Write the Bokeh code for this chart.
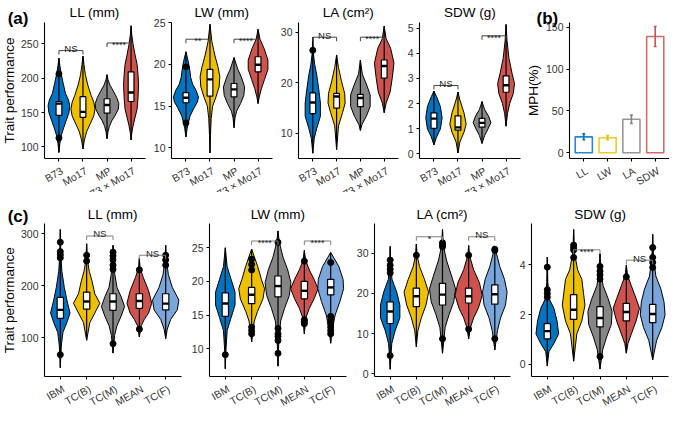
import math
from bokeh.plotting import figure
from bokeh.models import Range1d, FixedTicker, Label
from bokeh.layouts import row, column
from bokeh.embed import file_html
from bokeh.resources import INLINE

FONT = "Liberation Sans"
COLORS = ["#0073C2", "#EFC000", "#868686", "#CD534C", "#7AA6DC"]

TOP_CATS = ["B73", "Mo17", "MP", "B73 × Mo17"]
BOT_CATS = ["IBM", "TC(B)", "TC(M)", "MEAN", "TC(F)"]
MPH_CATS = ["LL", "LW", "LA", "SDW"]

# ---------------- (a) parents vs hybrid ----------------
A_LL_V = [[92, 105, 117, 128, 138, 150, 160, 168, 178, 192, 205, 218, 229],
          [97, 110, 122, 135, 145, 155, 165, 175, 190, 205, 220, 232],
          [112, 122, 130, 138, 146, 155, 163, 172, 180, 190, 198, 205],
          [110, 120, 130, 142, 155, 172, 190, 205, 220, 235, 250, 263, 276]]
A_LL_W = [[0, 0.04, 0.10, 0.20, 0.30, 0.42, 0.45, 0.40, 0.27, 0.18, 0.10, 0.04, 0],
          [0, 0.06, 0.15, 0.32, 0.45, 0.50, 0.45, 0.34, 0.20, 0.10, 0.04, 0],
          [0, 0.04, 0.10, 0.20, 0.34, 0.47, 0.49, 0.40, 0.28, 0.12, 0.04, 0],
          [0, 0.03, 0.08, 0.16, 0.25, 0.29, 0.31, 0.29, 0.25, 0.16, 0.08, 0.03, 0]]
A_LL_BOX = [(146, 163, 166), (143, 151, 173), (149, 161, 170), (166, 179, 209)]
A_LL_OUT = [[113, 206], [], [], []]
A_LL_SIG = [(1, 2, 240, "NS"), (3, 4, 251, "****")]

A_LW_V = [[11.3, 12.3, 13.0, 13.8, 14.8, 15.5, 16.1, 16.9, 17.6, 18.4, 19.3, 20.3, 21.5],
          [9.4, 11.5, 13.5, 15.0, 16.1, 17.3, 18.5, 19.6, 21.1, 22.7, 24.8],
          [12.4, 13.6, 14.4, 15.3, 16.3, 17.3, 18.5, 19.4, 20.8],
          [15.3, 16.1, 17.1, 18.2, 19.4, 20.5, 21.9, 23.0, 24.2]]
A_LW_W = [[0, 0.05, 0.10, 0.17, 0.34, 0.48, 0.52, 0.42, 0.28, 0.20, 0.16, 0.10, 0],
          [0, 0.02, 0.05, 0.11, 0.25, 0.38, 0.41, 0.34, 0.20, 0.08, 0],
          [0, 0.04, 0.11, 0.27, 0.41, 0.44, 0.30, 0.16, 0],
          [0, 0.05, 0.14, 0.27, 0.41, 0.41, 0.25, 0.08, 0]]
A_LW_BOX = [(15.4, 16.0, 16.6), (16.2, 18.2, 19.4), (16.1, 17.0, 17.7), (19.1, 19.95, 20.9)]
A_LW_OUT = [[13.0, 19.7], [], [], []]
A_LW_SIG = [(1, 2, 23.0, "**"), (3, 4, 23.0, "****")]

A_LA_V = [[6.1, 9.0, 10.9, 13.4, 16.0, 19.1, 21.7, 23.6, 26.0, 29.0],
          [6.8, 11.5, 14.1, 16.0, 17.9, 20.4, 23.0, 25.5],
          [10.6, 11.8, 13.4, 15.3, 17.6, 19.5, 21.7, 24.5],
          [14.1, 16.0, 18.2, 21.0, 23.9, 26.8, 28.7, 31.2]]
A_LA_W = [[0, 0.06, 0.16, 0.32, 0.32, 0.24, 0.16, 0.08, 0.02, 0],
          [0, 0.08, 0.25, 0.36, 0.34, 0.20, 0.08, 0],
          [0, 0.07, 0.25, 0.41, 0.41, 0.27, 0.08, 0],
          [0, 0.08, 0.25, 0.34, 0.41, 0.27, 0.08, 0]]
A_LA_BOX = [(13.9, 16.1, 18.0), (15.0, 17.3, 17.9), (15.3, 17.0, 17.7), (20.9, 23.3, 24.5)]
A_LA_OUT = [[26.4], [], [], []]
A_LA_SIG = [(1, 2, 29.0, "NS"), (3, 4, 29.0, "****")]

A_SDW_V = [[0.35, 0.67, 0.99, 1.43, 1.88, 2.27, 2.5],
           [0.03, 0.47, 0.86, 1.18, 1.63, 2.14, 2.46],
           [0.41, 0.73, 0.99, 1.24, 1.5, 1.76, 2.08],
           [1.1, 1.6, 2.0, 2.4, 2.8, 3.2, 3.8, 4.5, 5.15]]
A_SDW_W = [[0, 0.11, 0.27, 0.34, 0.27, 0.11, 0],
           [0, 0.08, 0.25, 0.34, 0.25, 0.08, 0],
           [0, 0.11, 0.25, 0.37, 0.27, 0.11, 0],
           [0, 0.06, 0.15, 0.30, 0.35, 0.25, 0.12, 0.04, 0]]
A_SDW_BOX = [(1.01, 1.4, 1.63), (0.94, 1.05, 1.51), (1.06, 1.23, 1.41), (2.45, 2.73, 3.1)]
A_SDW_OUT = [[], [], [], []]
A_SDW_SIG = [(1, 2, 2.72, "NS"), (3, 4, 4.7, "****")]

# ---------------- (b) mid-parent heterosis ----------------
MPH_VALS = [19, 18, 40, 139]
MPH_ERR = [3.5, 2.5, 5, 12]

# ---------------- (c) population / testcrosses ----------------
C_LL_V = [[43, 86.5, 111, 129.6, 148, 172.8, 197.5, 228, 260, 308.6],
          [95.7, 129.6, 148, 166.7, 185, 210, 228, 250, 281],
          [71, 105, 123.5, 142, 160.5, 179, 197.5, 222, 250, 278],
          [102, 123.5, 135.8, 148, 166.7, 191, 216, 235, 253],
          [98.8, 117, 135.8, 154, 172.8, 197.5, 222, 250, 278]]
C_LL_W = [[0, 0.04, 0.10, 0.25, 0.37, 0.25, 0.15, 0.06, 0.02, 0],
          [0, 0.12, 0.31, 0.50, 0.31, 0.20, 0.10, 0.03, 0],
          [0, 0.06, 0.15, 0.31, 0.44, 0.31, 0.15, 0.07, 0.02, 0],
          [0, 0.07, 0.19, 0.35, 0.47, 0.35, 0.15, 0.03, 0],
          [0, 0.06, 0.19, 0.44, 0.50, 0.25, 0.10, 0.03, 0]]
C_LL_BOX = [(137.6, 154, 178), (155.6, 170, 188), (153, 170, 185), (157, 171, 185), (154, 166, 185)]
C_LL_OUT = [[68, 254, 260, 266, 284], [248, 259], [89, 232, 240, 250, 258, 265], [117, 231], [240, 250, 259]]
C_LL_SIG = [(2, 3, 296, "NS"), (4, 5, 259, "NS")]

C_LW_V = [[7.0, 9.5, 12.7, 14.6, 16.5, 18.4, 20.3, 22.2, 25.0],
          [11.0, 14.1, 15.5, 17.4, 18.9, 20.3, 22.2, 24.8],
          [7.4, 11.0, 14.1, 16.0, 17.9, 19.8, 21.7, 23.6, 25.8, 27.5],
          [12.2, 14.6, 16.0, 17.4, 18.9, 20.3, 21.7, 23.1, 24.6],
          [10.8, 13.1, 15.0, 17.0, 18.9, 20.3, 22.2, 24.3]]
C_LW_W = [[0, 0.02, 0.07, 0.22, 0.37, 0.37, 0.22, 0.07, 0],
          [0, 0.10, 0.22, 0.43, 0.49, 0.37, 0.23, 0],
          [0, 0.03, 0.10, 0.25, 0.43, 0.49, 0.37, 0.19, 0.05, 0],
          [0, 0.06, 0.19, 0.37, 0.52, 0.37, 0.19, 0.05, 0],
          [0, 0.07, 0.17, 0.35, 0.49, 0.47, 0.31, 0]]
C_LW_BOX = [(14.8, 16.7, 18.3), (16.7, 18.0, 19.1), (17.7, 19.3, 20.8), (17.4, 18.6, 20.0), (18.0, 19.1, 20.3)]
C_LW_OUT = [[9.1], [12.2, 12.7, 13.2, 21.7, 22.5, 23.3], [9.3, 11.2, 11.8, 12.2, 13.0, 25.8],
            [13.7, 14.0, 14.3, 23.0], [12.2, 12.7, 13.2, 13.7, 14.2, 14.8, 22.8]]
C_LW_SIG = [(2, 3, 26.0, "****"), (4, 5, 26.0, "****")]

C_LA_V = [[1.1, 7.5, 10.7, 13.9, 17.1, 20.3, 23.5, 27.0, 31.7],
          [6.7, 10.7, 13.9, 17.1, 20.3, 23.5, 26.7, 29.5, 32.3],
          [5.1, 11.5, 14.7, 17.9, 21.1, 24.3, 28.3, 32.0, 35.9],
          [8.7, 11.5, 13.9, 16.3, 19.5, 22.7, 25.9, 29.5, 31.9],
          [5.9, 10.7, 13.9, 17.1, 20.3, 23.5, 26.7, 31.5]]
C_LA_W = [[0, 0.06, 0.19, 0.37, 0.37, 0.25, 0.07, 0.02, 0],
          [0, 0.06, 0.19, 0.37, 0.47, 0.31, 0.12, 0.03, 0],
          [0, 0.10, 0.25, 0.43, 0.50, 0.35, 0.15, 0.03, 0],
          [0, 0.07, 0.19, 0.37, 0.52, 0.41, 0.19, 0.03, 0],
          [0, 0.10, 0.22, 0.41, 0.47, 0.37, 0.19, 0]]
C_LA_BOX = [(12.5, 15.5, 17.9), (16.7, 19.3, 21.3), (17.1, 19.7, 22.5), (17.6, 19.3, 21.3), (17.3, 19.8, 22.1)]
C_LA_OUT = [[4.5, 25.1, 26.0, 27.0, 28.3], [29.5], [8.7, 31.6, 32.1, 32.6], [11.1, 29.5], [8.7, 30.7, 31.0]]
C_LA_SIG = [(2, 3, 34.1, "*"), (4, 5, 34.1, "NS")]

C_SDW_V = [[-0.08, 0.5, 0.83, 1.22, 1.74, 2.25, 2.64, 3.3, 4.32],
           [0.12, 1.22, 1.74, 2.38, 2.9, 3.42, 3.8, 4.5, 5.43],
           [-0.2, 0.57, 1.09, 1.6, 2.12, 2.64, 3.16, 3.7, 4.45],
           [0.44, 0.83, 1.22, 1.74, 2.25, 2.64, 3.16, 3.55, 4.0],
           [0.18, 0.96, 1.48, 1.99, 2.51, 3.03, 3.55, 4.3, 5.23]]
C_SDW_W = [[0, 0.06, 0.25, 0.43, 0.37, 0.25, 0.07, 0.02, 0],
           [0, 0.12, 0.31, 0.43, 0.37, 0.31, 0.15, 0.03, 0],
           [0, 0.10, 0.25, 0.43, 0.46, 0.31, 0.12, 0.03, 0],
           [0, 0.06, 0.19, 0.37, 0.50, 0.37, 0.19, 0.05, 0],
           [0, 0.15, 0.35, 0.47, 0.43, 0.31, 0.12, 0.03, 0]]
C_SDW_BOX = [(1.02, 1.33, 1.63), (1.8, 2.19, 2.8), (1.5, 1.86, 2.32), (1.74, 2.1, 2.45), (1.67, 2.02, 2.41)]
C_SDW_OUT = [[2.7, 2.85, 3.0, 3.91], [4.3, 4.6, 4.7, 4.8], [0.31, 3.43, 3.6, 3.75, 3.94], [3.52], [3.9, 4.1, 4.3, 4.7]]
C_SDW_SIG = [(2, 3, 4.61, "****"), (4, 5, 4.19, "NS")]

# ---------------- layout (reference px -> page px) ----------------
SX = 669 / 685
SY = 410 / 426


class Panel:
    """A figure whose frame fills its canvas; axes are placed at fixed locations."""

    def __init__(self, fig_lr, frame_lr, fig_tb, frame_tb, ncat, yr, yticks, cats):
        L, R, A, B = (round(v * SX) for v in (*fig_lr, *frame_lr))
        T, Bo, At, Ab = (round(v * SY) for v in (*fig_tb, *frame_tb))
        self.L, self.T = L, T
        w, h = R - L, Bo - T
        self.w, self.h = w, h
        a, b, t, bo = A - L, B - L, At - T, Ab - T
        self.bo = bo
        x0, x1 = 0.4, ncat + 0.6
        u = (x1 - x0) / (b - a)
        y0, y1 = yr
        r = (y1 - y0) / (bo - t)
        self.fh = bo - t
        p = figure(width=w, height=h,
                   x_range=Range1d(x0 - a * u, x1 + (w - b) * u),
                   y_range=Range1d(y0 - (h - bo) * r, y1 + t * r),
                   output_backend="svg", toolbar_location=None,
                   min_border_left=0, min_border_right=0, min_border_top=0, min_border_bottom=0)
        p.outline_line_color = None
        p.xgrid.visible = False
        p.ygrid.visible = False
        p.background_fill_color = "white"
        p.border_fill_color = "white"
        xa, ya = p.xaxis[0], p.yaxis[0]
        for ax in (xa, ya):
            ax.axis_line_color = "black"
            ax.axis_line_width = 1.1
            ax.major_tick_line_color = "black"
            ax.major_tick_line_width = 1.1
            ax.major_tick_in = 0
            ax.major_tick_out = 3
            ax.minor_tick_line_color = None
        xa.fixed_location = y0
        xa.bounds = (x0, x1)
        xa.ticker = FixedTicker(ticks=list(range(1, ncat + 1)))
        xa.major_label_text_color = None
        ya.fixed_location = x0
        ya.bounds = (y0, y1)
        ya.ticker = FixedTicker(ticks=yticks)
        ya.major_label_text_font_size = "10.5px"
        ya.major_label_text_font = FONT
        ya.major_label_text_color = "#333333"
        ya.major_label_standoff = 3
        self.p = p
        self.frame_cx_ref = (frame_lr[0] + frame_lr[1]) / 2
        for i, c in enumerate(cats):
            self.label(c, i + 1, h - bo - 6, 10.5, xu="data", angle=math.radians(30),
                       align="right", baseline="top", color="#333333")

    def label(self, text, x, y, size, xu="screen", yu="screen", angle=0.0, align="center",
              baseline="middle", bold=False, color="black", yoff=0):
        self.p.add_layout(Label(x=x, y=y, x_units=xu, y_units=yu, text=text, angle=angle,
                                text_align=align, text_baseline=baseline, text_font=FONT,
                                text_font_size=f"{size}px",
                                text_font_style="bold" if bold else "normal",
                                text_color=color, y_offset=yoff))

    def ref_label(self, text, rx, ry, size, **kw):
        # position given in reference-picture pixels (from its top-left)
        sx = rx * SX - self.L
        sy = self.h - (ry * SY - self.T)
        self.label(text, sx, sy, size, **kw)


BW = 0.12


def draw_violins(p, V, W, BOX, OUT):
    n = len(V)
    xs, ys = [], []
    for i in range(n):
        cx = i + 1
        xs.append([cx - a for a in W[i]] + [cx + a for a in reversed(W[i])])
        ys.append(list(V[i]) + list(reversed(V[i])))
    p.patches(xs, ys, fill_color=COLORS[:n], line_color="black", line_width=1)
    cxs = list(range(1, n + 1))
    p.segment(x0=cxs, y0=[v[0] for v in V], x1=cxs, y1=[v[-1] for v in V],
              line_color="black", line_width=1.2)
    p.quad(left=[c - BW for c in cxs], right=[c + BW for c in cxs],
           bottom=[b[0] for b in BOX], top=[b[2] for b in BOX],
           fill_color="white", line_color="black", line_width=1.2)
    p.segment(x0=[c - BW for c in cxs], y0=[b[1] for b in BOX],
              x1=[c + BW for c in cxs], y1=[b[1] for b in BOX],
              line_color="black", line_width=2.4)
    ox, oy = [], []
    for i, o in enumerate(OUT):
        ox += [i + 1] * len(o)
        oy += o
    if ox:
        p.scatter(ox, oy, size=6, color="black")


def draw_sig(panel, SIG, yr, color):
    p = panel.p
    drop = 4.0 / panel.fh * (yr[1] - yr[0])
    for i, j, y, t in SIG:
        p.line([i, i, j, j], [y - drop, y, y, y - drop], line_color=color, line_width=1)
        star = t.startswith("*")
        panel.label(t, (i + j) / 2, y, 9 if star else 9.5, xu="data", yu="data",
                    baseline="alphabetic", yoff=(-2 if star else 2), color="#222222")


TOP_TB = ((0, 200), (23, 164))
BOT_TB = ((200, 426), (232, 391))

top_specs = [
    ((0, 150), (45, 148), A_LL_V, A_LL_W, A_LL_BOX, A_LL_OUT, A_LL_SIG, (83.2, 280.8), [100, 150, 200, 250], "LL (mm)"),
    ((150, 284), (175, 278), A_LW_V, A_LW_W, A_LW_BOX, A_LW_OUT, A_LW_SIG, (8.73, 25.0), [10, 15, 20, 25], "LW (mm)"),
    ((284, 414), (305, 408), A_LA_V, A_LA_W, A_LA_BOX, A_LA_OUT, A_LA_SIG, (5.05, 31.9), [10, 20, 30], "LA (cm²)"),
    ((414, 536), (429, 532), A_SDW_V, A_SDW_W, A_SDW_BOX, A_SDW_OUT, A_SDW_SIG, (-0.19, 5.23), [0, 1, 2, 3, 4, 5], "SDW (g)"),
]
bot_specs = [
    ((0, 190), (45, 185), C_LL_V, C_LL_W, C_LL_BOX, C_LL_OUT, C_LL_SIG, (26, 320), [100, 200, 300], "LL (mm)"),
    ((190, 358), (214, 354), C_LW_V, C_LW_W, C_LW_BOX, C_LW_OUT, C_LW_SIG, (5.86, 28.6), [10, 15, 20, 25], "LW (mm)"),
    ((358, 530), (383, 522), C_LA_V, C_LA_W, C_LA_BOX, C_LA_OUT, C_LA_SIG, (-0.7, 37.4), [0, 10, 20, 30], "LA (cm²)"),
    ((530, 685), (544, 684), C_SDW_V, C_SDW_W, C_SDW_BOX, C_SDW_OUT, C_SDW_SIG, (-0.5, 5.67), [0, 2, 4], "SDW (g)"),
]

top_figs = []
for k, (flr, frl, V, W, BOX, OUT, SIG, yr, yt, title) in enumerate(top_specs):
    pn = Panel(flr, frl, *TOP_TB, 4, yr, yt, TOP_CATS)
    draw_violins(pn.p, V, W, BOX, OUT)
    draw_sig(pn, SIG, yr, "#444444")
    pn.ref_label(title, pn.frame_cx_ref, 12, 13.5)
    if k == 0:
        pn.ref_label("(a)", 18, 19, 17, bold=True)
        pn.ref_label("Trait performance", 9, 93.5, 13.5, angle=math.pi / 2)
    top_figs.append(pn.p)

# (b) bar chart
pb = Panel((536, 685), (583, 685), *TOP_TB, 4, (-6.9, 155.8), [0, 50, 100, 150], MPH_CATS)
xb = [1, 2, 3, 4]
lo = [v - e for v, e in zip(MPH_VALS, MPH_ERR)]
hi = [v + e for v, e in zip(MPH_VALS, MPH_ERR)]
pb.p.vbar(x=xb, top=MPH_VALS, bottom=0, width=0.72, fill_color="white",
          line_color=COLORS[:4], line_width=1.6, line_alpha=0.85)
pb.p.segment(x0=xb, y0=lo, x1=xb, y1=hi, line_color=COLORS[:4], line_width=1.6)
for yy in (lo, hi):
    pb.p.segment(x0=[x - 0.06 for x in xb], y0=yy, x1=[x + 0.06 for x in xb], y1=yy,
                 line_color=COLORS[:4], line_width=1.6)
pb.ref_label("(b)", 560, 19, 17, bold=True)
pb.ref_label("MPH(%)", 546, 93.5, 13.5, angle=math.pi / 2)
top_figs.append(pb.p)

bot_figs = []
for k, (flr, frl, V, W, BOX, OUT, SIG, yr, yt, title) in enumerate(bot_specs):
    pn = Panel(flr, frl, *BOT_TB, 5, yr, yt, BOT_CATS)
    draw_violins(pn.p, V, W, BOX, OUT)
    draw_sig(pn, SIG, yr, "#808080")
    pn.ref_label(title, pn.frame_cx_ref, 222, 13.5)
    if k == 0:
        pn.ref_label("(c)", 18, 224, 17, bold=True)
        pn.ref_label("Trait performance", 9, 311.5, 13.5, angle=math.pi / 2)
    bot_figs.append(pn.p)

layout = column(row(*top_figs), row(*bot_figs))

with open("out.html", "w") as f:
    f.write(file_html(layout, INLINE))
